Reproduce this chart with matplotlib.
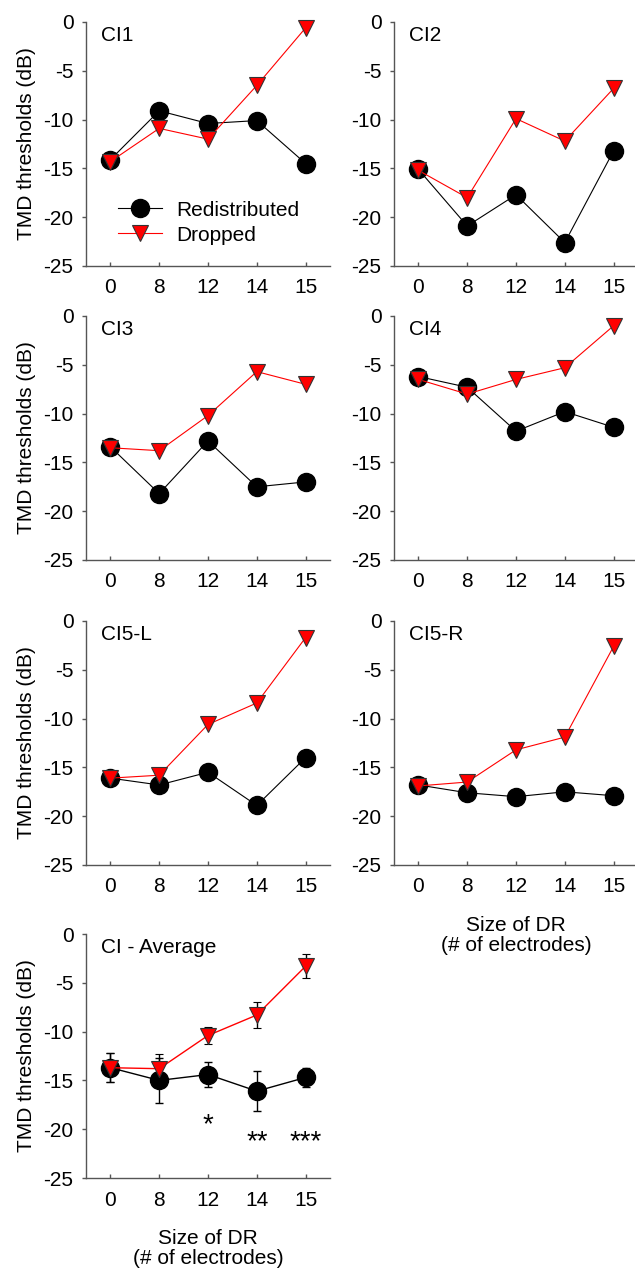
import numpy as np
import matplotlib
matplotlib.use("Agg")
import matplotlib.pyplot as plt

plt.rcParams['font.family'] = ['Liberation Sans', 'DejaVu Sans']

#%% data
sizes = ["0", "8", "12", "14", "15"]
panels = ["CI1", "CI2", "CI3", "CI4", "CI5-L", "CI5-R", "CI - Average"]

redist = {
    "CI1":   [-14.1, -9.1, -10.4, -10.1, -14.5],
    "CI2":   [-15.1, -20.9, -17.7, -22.6, -13.2],
    "CI3":   [-13.4, -18.2, -12.8, -17.5, -17.0],
    "CI4":   [-6.2, -7.3, -11.8, -9.8, -11.4],
    "CI5-L": [-16.1, -16.8, -15.5, -18.9, -14.0],
    "CI5-R": [-16.8, -17.6, -18.0, -17.5, -17.9],
    "CI - Average": [-13.7, -15.0, -14.4, -16.1, -14.7],
}
dropped = {
    "CI1":   [-14.3, -10.9, -12.0, -6.5, -0.6],
    "CI2":   [-15.2, -18.0, -9.9, -12.2, -6.8],
    "CI3":   [-13.5, -13.8, -10.2, -5.7, -7.0],
    "CI4":   [-6.5, -8.0, -6.5, -5.3, -1.0],
    "CI5-L": [-16.1, -15.8, -10.6, -8.4, -1.7],
    "CI5-R": [-16.9, -16.5, -13.2, -11.9, -2.6],
    "CI - Average": [-13.7, -13.8, -10.4, -8.3, -3.3],
}
redist_err = [1.5, 2.3, 1.25, 2.05, 1.0]
dropped_err = [1.5, 1.5, 0.9, 1.3, 1.2]
stars = ["", "", "*", "**", "***"]
star_y = [0, 0, -19.6, -21.3, -21.3]

#%% layout (figure coords)
W, H = 635, 1273
fig = plt.figure(figsize=(W / 100, H / 100), dpi=100)
col_x = [86 / W, 394 / W]
row_bottom = [266, 560, 865, 1178]
ax_w = 244 / W
ax_h = 244 / H

spine_col = "#555555"
fs = 15
x = np.arange(len(sizes))

for i, name in enumerate(panels):
    r, c = divmod(i, 2)
    ax = fig.add_axes([col_x[c], 1 - row_bottom[r] / H, ax_w, ax_h])
    if name == "CI - Average":
        ax.errorbar(x, redist[name], yerr=redist_err, color="black", lw=1,
                    marker="o", ms=13, mfc="black", mec="black",
                    ecolor="black", elinewidth=1, capsize=3, clip_on=False,
                    label="Redistributed", zorder=3)
        ax.errorbar(x, dropped[name], yerr=dropped_err, color="red", lw=1,
                    marker="v", ms=12, mfc="red", mec="#333333", mew=0.8,
                    ecolor="black", elinewidth=1, capsize=3, clip_on=False,
                    label="Dropped", zorder=4)
        for xi, s, sy in zip(x, stars, star_y):
            if s:
                ax.text(xi, sy, s, ha="center", va="center", fontsize=20)
    else:
        ax.plot(x, redist[name], color="black", lw=0.8, marker="o", ms=13,
                mfc="black", mec="black", clip_on=False, label="Redistributed",
                zorder=3)
        ax.plot(x, dropped[name], color="red", lw=0.8, marker="v", ms=12,
                mfc="red", mec="#333333", mew=0.8, clip_on=False,
                label="Dropped", zorder=4)

    ax.set_xlim(-0.5, 4.5)
    ax.set_ylim(-25, 0)
    ax.set_yticks([0, -5, -10, -15, -20, -25])
    ax.set_yticklabels(["0", "-5", "-10", "-15", "-20", "-25"])
    ax.set_xticks(x)
    ax.set_xticklabels(sizes)
    for s in ["top", "right"]:
        ax.spines[s].set_visible(False)
    for s in ["left", "bottom"]:
        ax.spines[s].set_color(spine_col)
        ax.spines[s].set_linewidth(1)
    ax.tick_params(axis="both", labelsize=fs, colors=spine_col,
                   labelcolor="black", length=3, width=1)
    ax.tick_params(axis="x", direction="in", pad=9)
    ax.tick_params(axis="y", direction="out", pad=6)
    ax.text(0.06, 0.985, name, transform=ax.transAxes, ha="left", va="top",
            fontsize=fs)
    if c == 0:
        ax.set_ylabel("TMD thresholds (dB)", fontsize=fs, labelpad=5)
    if name in ("CI5-R", "CI - Average"):
        ax.set_xlabel("Size of DR\n(# of electrodes)", fontsize=fs,
                      labelpad=14, linespacing=1.1)
    if name == "CI1":
        ax.legend(loc="lower left", bbox_to_anchor=(0.09, 0.045), frameon=False,
                  fontsize=fs, handlelength=2.1, handletextpad=0.7,
                  labelspacing=0.28, borderpad=0)

fig.savefig("out.png", dpi=100)
